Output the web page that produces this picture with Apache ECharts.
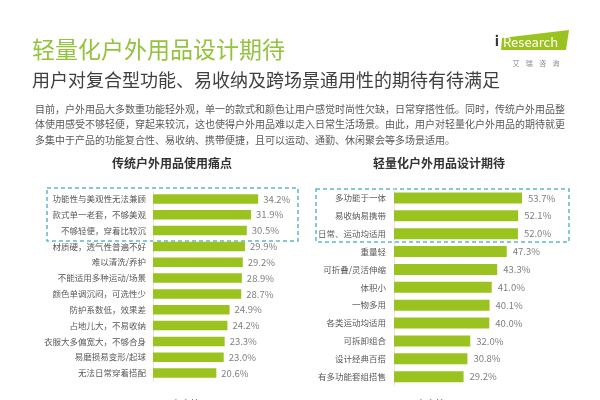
<!DOCTYPE html>
<html>
<head>
<meta charset="utf-8">
<script src="https://cdn.jsdelivr.net/npm/echarts@6/dist/echarts.min.js"></script>
<style>
  html, body { margin: 0; padding: 0; background: #fff; }
  #main { width: 600px; height: 400px; }
</style>
</head>
<body>
<div id="main"></div>
<script>
// 传统户外用品使用痛点
var painNames = ['功能性与美观性无法兼顾', '款式单一老套，不够美观', '不够轻便，穿着比较沉', '材质硬，透气性普遍不好',
    '难以清洗/养护', '不能适用多种运动/场景', '颜色单调沉闷，可选性少', '防护系数低，效果差',
    '占地儿大，不易收纳', '衣服大多偏宽大，不够合身', '易磨损易变形/起球', '无法日常穿着搭配'];
var painValues = [34.2, 31.9, 30.5, 29.9, 29.2, 28.9, 28.7, 24.9, 24.2, 23.3, 23.0, 20.6];

// 轻量化户外用品设计期待
var expectNames = ['多功能于一体', '易收纳易携带', '日常、运动均适用', '重量轻', '可折叠/灵活伸缩',
    '体积小', '一物多用', '各类运动均适用', '可拆卸组合', '设计经典百搭', '有多功能套组搭售'];
var expectValues = [53.7, 52.1, 52.0, 47.3, 43.3, 41.0, 40.1, 40.0, 32.0, 30.8, 29.2];

var mainTitle = '轻量化户外用品设计期待';
var subTitle = '用户对复合型功能、易收纳及跨场景通用性的期待有待满足';
var paraLines = [
    '目前，户外用品大多数重功能轻外观，单一的款式和颜色让用户感觉时尚性欠缺，日常穿搭性低。同时，传统户外用品整',
    '体使用感受不够轻便，穿起来较沉，这也使得户外用品难以走入日常生活场景。由此，用户对轻量化户外用品的期待就更',
    '多集中于产品的功能复合性、易收纳、携带便捷，且可以运动、通勤、休闲聚会等多场景适用。'
];
var leftTitle = '传统户外用品使用痛点';
var rightTitle = '轻量化户外用品设计期待';
var seriesName = '用户占比';

var FONT = '"Noto Sans CJK SC", "Noto Sans", sans-serif';
var barColor = '#9bc31f';
var boxColor = '#5fb8c9';

var chart = echarts.init(document.getElementById('main'));

// 段落文字
var paraGraphics = paraLines.map(function (t, i) {
    return {
        type: 'text', left: 35, top: 104 + i * 15.5,
        style: { text: t, font: '10px ' + FONT, fill: '#595959' }
    };
});

function pct(p) { return p.value.toFixed(1) + '%'; }

var option = {
    backgroundColor: '#fff',
    animation: false,
    textStyle: { fontFamily: FONT },
    legend: [
        { left: 145, top: 394, itemWidth: 6, itemHeight: 6, icon: 'rect', data: [seriesName],
          textStyle: { fontSize: 10, color: '#595959' } },
        { left: 390, top: 394, itemWidth: 6, itemHeight: 6, icon: 'rect', data: [seriesName],
          textStyle: { fontSize: 10, color: '#595959' } }
    ],
    grid: [
        { left: 153, top: 191, width: 123, height: 190 },
        { left: 394, top: 189, width: 143, height: 196.6 }
    ],
    xAxis: [
        { gridIndex: 0, type: 'value', min: 0, max: 40, show: false },
        { gridIndex: 1, type: 'value', min: 0, max: 60, show: false }
    ],
    yAxis: [
        { gridIndex: 0, type: 'category', inverse: true, data: painNames,
          axisLine: { show: true, lineStyle: { color: '#e6e6e6' } }, axisTick: { show: false },
          axisLabel: { fontSize: 8.5, color: '#595959', margin: 7 } },
        { gridIndex: 1, type: 'category', inverse: true, data: expectNames,
          axisLine: { show: true, lineStyle: { color: '#e6e6e6' } }, axisTick: { show: false },
          axisLabel: { fontSize: 8.5, color: '#595959', margin: 8 } }
    ],
    series: [
        { name: seriesName, type: 'bar', xAxisIndex: 0, yAxisIndex: 0, data: painValues,
          barWidth: 9.5, itemStyle: { color: barColor },
          label: { show: true, position: 'right', distance: 5, fontSize: 9.5, color: '#7f7f7f', formatter: pct } },
        { name: seriesName, type: 'bar', xAxisIndex: 1, yAxisIndex: 1, data: expectValues,
          barWidth: 11, itemStyle: { color: barColor },
          label: { show: true, position: 'right', distance: 6, fontSize: 9.5, color: '#7f7f7f', formatter: pct } }
    ],
    graphic: [
        { type: 'text', left: 32, top: 38,
          style: { text: mainTitle, font: '23px ' + FONT, fill: '#93c23c' } },
        { type: 'text', left: 32, top: 71,
          style: { text: subTitle, font: '18px ' + FONT, fill: '#404040' } },
        // 图表标题
        { type: 'text', x: 172, y: 163,
          style: { text: leftTitle, font: 'bold 12px ' + FONT, fill: '#333', align: 'center', verticalAlign: 'middle' } },
        { type: 'text', x: 439, y: 163,
          style: { text: rightTitle, font: 'bold 12px ' + FONT, fill: '#333', align: 'center', verticalAlign: 'middle' } },
        // 虚线框
        { type: 'rect', shape: { x: 47, y: 188, width: 251, height: 53 },
          style: { fill: 'none', stroke: boxColor, lineWidth: 1.5, lineDash: [4, 3] } },
        { type: 'rect', shape: { x: 316, y: 189, width: 253, height: 53 },
          style: { fill: 'none', stroke: boxColor, lineWidth: 1.5, lineDash: [4, 3] } },
        // logo
        { type: 'polygon', shape: { points: [[502, 38], [569, 30], [566, 50], [501, 50]] },
          style: { fill: '#9bc31f' } },
        { type: 'text', x: 497, y: 41,
          style: { text: 'i', font: 'bold 14px ' + FONT, fill: '#333', align: 'center', verticalAlign: 'middle' } },
        { type: 'text', x: 503, y: 42,
          style: { text: 'Research', font: '13px ' + FONT, fill: '#fff', verticalAlign: 'middle' } },
        { type: 'text', x: 536, y: 63,
          style: { text: '艾    瑞    咨    询', font: '7px ' + FONT, fill: '#8c8c8c', align: 'center', verticalAlign: 'middle' } }
    ].concat(paraGraphics)
};

chart.setOption(option);
</script>
</body>
</html>
